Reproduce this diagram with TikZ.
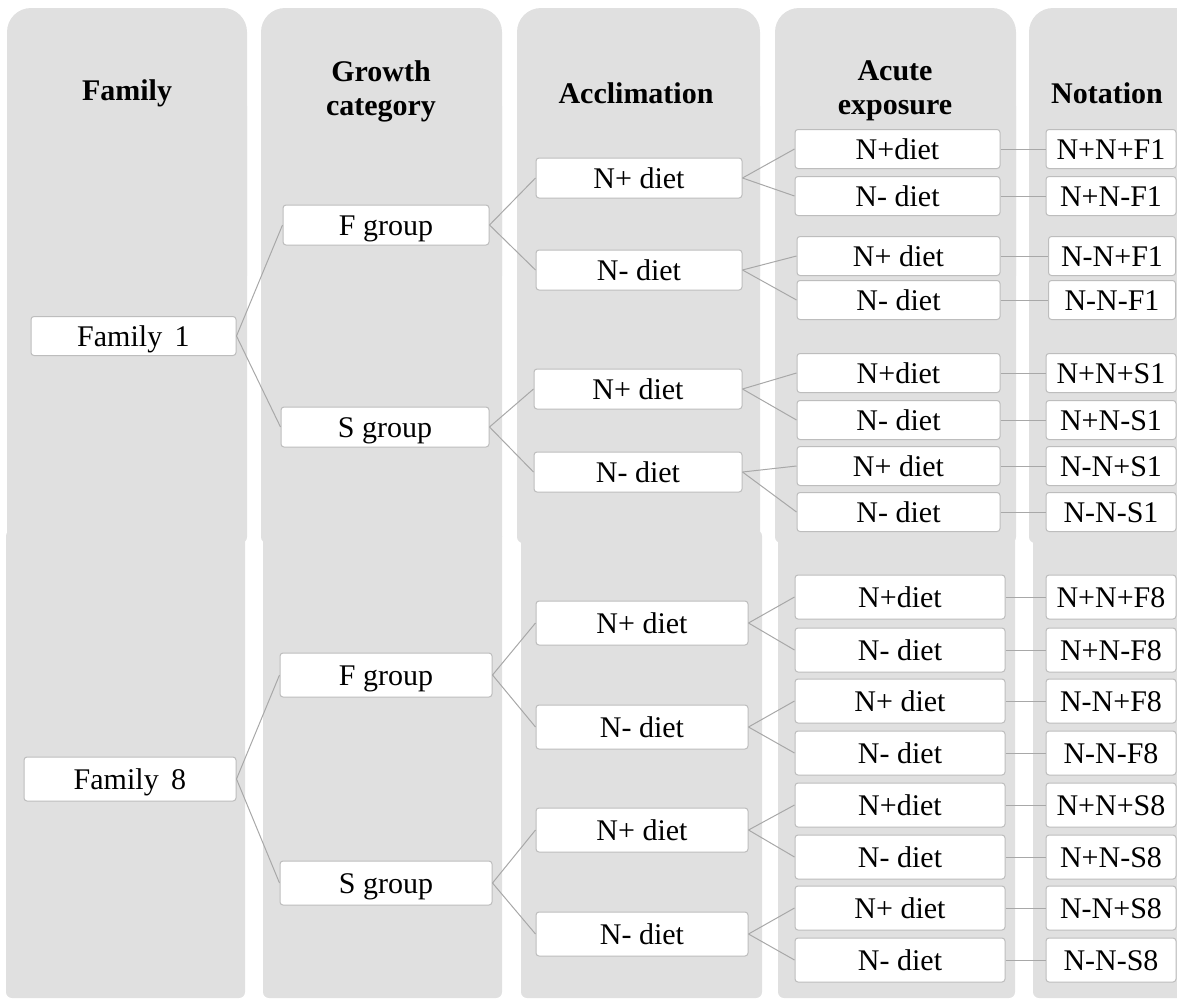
\documentclass[tikz,border=0pt]{standalone}
\usepackage{fontspec}
\setmainfont{Liberation Serif}
\definecolor{colgray}{HTML}{E0E0E0}
\definecolor{boxline}{HTML}{BDBDBD}
\definecolor{linkgray}{HTML}{A8A8A8}
\begin{document}
\begin{tikzpicture}[x=1pt,y=-1pt,
  hdr/.style={font=\bfseries\fontsize{30}{34}\selectfont, align=center, inner sep=0pt},
  bx/.style={draw=boxline, fill=white, rounded corners=3pt, inner sep=0pt, line width=1pt, font=\fontsize{30}{34}\selectfont, text height=21pt, text depth=1pt},
  bt/.style={bx, minimum height=39pt},
  bb/.style={bx, minimum height=44pt},
  lk/.style={draw=linkgray, line width=1pt}]
\useasboundingbox (0,0) rectangle (1177,999);
\clip (0,0) rectangle (1177,999);
% bottom section columns
\foreach \a/\b in {6/245,263/502,521/762,778/1015,1033/1210}{
  \fill[colgray, rounded corners=6pt] (\a,530) rectangle (\b,998);
}
% top section columns
\foreach \a/\b in {7/247,261/502,517/760,775/1016,1029/1210}{
  \fill[colgray, rounded corners=24pt] (\a,8) rectangle (\b,300);
  \fill[colgray, rounded corners=6pt] (\a,100) rectangle (\b,543);
}
% headers
\node[hdr] (h1) at (127,93) {Family};
\node[hdr] (h2) at (381,91) {Growth\\category};
\node[hdr] (h3) at (636,93) {Acclimation};
\node[hdr] (h4) at (895,91) {Acute\\exposure};
\node[hdr] (h5) at (1107,93) {Notation};
% ---------------- top section ----------------
\node[bt, minimum width=205pt] (f1) at (133.5,336) {Family\, 1};
\node[bt, minimum width=206pt, minimum height=40pt] (f1F) at (386,225) {F group};
\node[bt, minimum width=208pt, minimum height=40pt] (f1S) at (385,427) {S group};
\node[bt, minimum width=206pt, minimum height=40pt] (a1) at (639,178) {N+ diet};
\node[bt, minimum width=206pt, minimum height=40pt] (a2) at (639,270) {N- diet};
\node[bt, minimum width=208pt, minimum height=40pt] (a3) at (638,389) {N+ diet};
\node[bt, minimum width=208pt, minimum height=40pt] (a4) at (638,472) {N- diet};
\node[bt, minimum width=205pt] (e1) at (897.5,149) {N+diet};
\node[bt, minimum width=205pt] (e2) at (897.5,196) {N- diet};
\node[bt, minimum width=203pt] (e3) at (898.5,256) {N+ diet};
\node[bt, minimum width=203pt] (e4) at (898.5,300) {N- diet};
\node[bt, minimum width=203pt] (e5) at (898.5,373) {N+diet};
\node[bt, minimum width=203pt] (e6) at (898.5,420) {N- diet};
\node[bt, minimum width=203pt] (e7) at (898.5,466) {N+ diet};
\node[bt, minimum width=203pt] (e8) at (898.5,512) {N- diet};
\node[bt, minimum width=130pt] (n1) at (1111,149) {N+N+F1};
\node[bt, minimum width=130pt] (n2) at (1111,196) {N+N-F1};
\node[bt, minimum width=127pt] (n3) at (1112,256) {N-N+F1};
\node[bt, minimum width=127pt] (n4) at (1112,300) {N-N-F1};
\node[bt, minimum width=130pt] (n5) at (1111,373) {N+N+S1};
\node[bt, minimum width=130pt] (n6) at (1111,420) {N+N-S1};
\node[bt, minimum width=130pt] (n7) at (1111,466) {N-N+S1};
\node[bt, minimum width=130pt] (n8) at (1111,512) {N-N-S1};
\draw[lk] (f1.east) -- (f1F.west);
\draw[lk] (f1.east) -- (f1S.west);
\draw[lk] (f1F.east) -- (a1.west);
\draw[lk] (f1F.east) -- (a2.west);
\draw[lk] (f1S.east) -- (a3.west);
\draw[lk] (f1S.east) -- (a4.west);
\draw[lk] (a1.east) -- (e1.west);
\draw[lk] (a1.east) -- (e2.west);
\draw[lk] (a2.east) -- (e3.west);
\draw[lk] (a2.east) -- (e4.west);
\draw[lk] (a3.east) -- (e5.west);
\draw[lk] (a3.east) -- (e6.west);
\draw[lk] (a4.east) -- (e7.west);
\draw[lk] (a4.east) -- (e8.west);
\foreach \i in {1,...,8}{\draw[lk] (e\i.east) -- (n\i.west);}
% ---------------- bottom section ----------------
\node[bb, minimum width=212pt] (f8) at (130,779) {Family\, 8};
\node[bb, minimum width=212pt] (f8F) at (386,675) {F group};
\node[bb, minimum width=212pt] (f8S) at (386,883) {S group};
\node[bb, minimum width=212pt] (b1) at (642,623) {N+ diet};
\node[bb, minimum width=212pt] (b2) at (642,727) {N- diet};
\node[bb, minimum width=212pt] (b3) at (642,830) {N+ diet};
\node[bb, minimum width=212pt] (b4) at (642,934) {N- diet};
\node[bb, minimum width=210pt] (c1) at (900,597) {N+diet};
\node[bb, minimum width=210pt] (c2) at (900,650) {N- diet};
\node[bb, minimum width=210pt] (c3) at (900,701) {N+ diet};
\node[bb, minimum width=210pt] (c4) at (900,753) {N- diet};
\node[bb, minimum width=210pt] (c5) at (900,805) {N+diet};
\node[bb, minimum width=210pt] (c6) at (900,857) {N- diet};
\node[bb, minimum width=210pt] (c7) at (900,908) {N+ diet};
\node[bb, minimum width=210pt] (c8) at (900,960) {N- diet};
\node[bb, minimum width=130pt] (m1) at (1111,597) {N+N+F8};
\node[bb, minimum width=130pt] (m2) at (1111,650) {N+N-F8};
\node[bb, minimum width=130pt] (m3) at (1111,701) {N-N+F8};
\node[bb, minimum width=130pt] (m4) at (1111,753) {N-N-F8};
\node[bb, minimum width=130pt] (m5) at (1111,805) {N+N+S8};
\node[bb, minimum width=130pt] (m6) at (1111,857) {N+N-S8};
\node[bb, minimum width=130pt] (m7) at (1111,908) {N-N+S8};
\node[bb, minimum width=130pt] (m8) at (1111,960) {N-N-S8};
\draw[lk] (f8.east) -- (f8F.west);
\draw[lk] (f8.east) -- (f8S.west);
\draw[lk] (f8F.east) -- (b1.west);
\draw[lk] (f8F.east) -- (b2.west);
\draw[lk] (f8S.east) -- (b3.west);
\draw[lk] (f8S.east) -- (b4.west);
\draw[lk] (b1.east) -- (c1.west);
\draw[lk] (b1.east) -- (c2.west);
\draw[lk] (b2.east) -- (c3.west);
\draw[lk] (b2.east) -- (c4.west);
\draw[lk] (b3.east) -- (c5.west);
\draw[lk] (b3.east) -- (c6.west);
\draw[lk] (b4.east) -- (c7.west);
\draw[lk] (b4.east) -- (c8.west);
\foreach \i in {1,...,8}{\draw[lk] (c\i.east) -- (m\i.west);}
\end{tikzpicture}
\end{document}
